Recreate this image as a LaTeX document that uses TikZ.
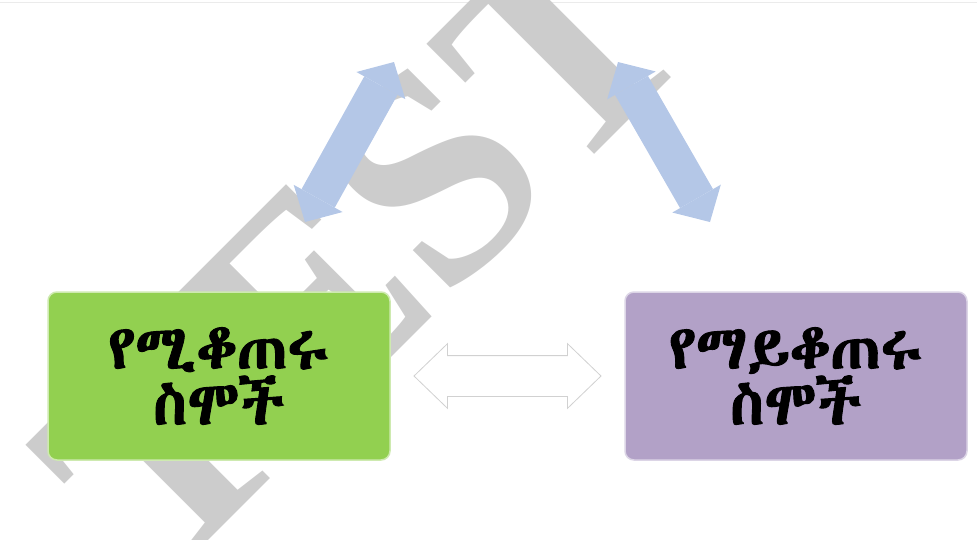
\documentclass[tikz,border=0pt]{standalone}
\usepackage{fontspec}
\setmainfont{Liberation Serif}
\IfFontExistsTF{Abyssinica SIL}{%
  \newfontfamily\ethfont[FakeBold=1.5]{Abyssinica SIL}}{%
  \IfFontExistsTF{FreeSerif}{%
    \newfontfamily\ethfont[FakeBold=1.5]{FreeSerif}}{%
    \newfontfamily\ethfont{DejaVu Sans}}}
\usetikzlibrary{shapes,arrows,arrows.meta,calc}
\definecolor{countgreen}{RGB}{146,208,80}
\definecolor{masspurple}{RGB}{178,161,199}
\definecolor{linkblue}{RGB}{180,199,231}
\definecolor{markgray}{RGB}{204,204,204}
\tikzstyle{block} = [rectangle, rounded corners=9pt, minimum width=342pt,
minimum height=168pt, text width=330pt, align=center, inner sep=0pt,
font=\ethfont\fontsize{62}{56}\selectfont, line width=1.5pt]
\tikzstyle{twoway} = [draw=linkblue, line width=38pt,
{Triangle[length=27pt,width=56pt,line width=0pt]}-{Triangle[length=27pt,width=56pt,line width=0pt]}]
\tikzstyle{hollow} = [double arrow, draw=black!18, fill=white, line width=0.8pt,
minimum height=187pt, inner xsep=0pt, inner ysep=20pt, double arrow head extend=12pt,
double arrow tip angle=88]

\begin{document}
\begin{tikzpicture}[x=1pt, y=-1pt]
\useasboundingbox (0,0) rectangle (977,539);
\draw[black!8, line width=1pt] (0,2) -- (977,2);
% watermark
\node[markgray, rotate=45, font=\bfseries\fontsize{300}{300}\selectfont] (mark) at (364,247) {TEST};
% Place nodes
\node [block, fill=countgreen, draw=countgreen!45!white] (count) at (219,376) {የሚቆጠሩ\\ስሞች};
\node [block, fill=masspurple, draw=masspurple!45!white] (mass) at (796,376) {የማይቆጠሩ\\ስሞች};
\coordinate (lefttop) at (394,62);
\coordinate (leftfoot) at (305,222);
\coordinate (righttop) at (618,62);
\coordinate (rightfoot) at (710,222);
% Draw edges
\draw [twoway] (leftfoot) -- (lefttop);
\draw [twoway] (righttop) -- (rightfoot);
\node [hollow] (link) at ($(count.east)!0.5!(mass.west)$) {};
\end{tikzpicture}
\end{document}
